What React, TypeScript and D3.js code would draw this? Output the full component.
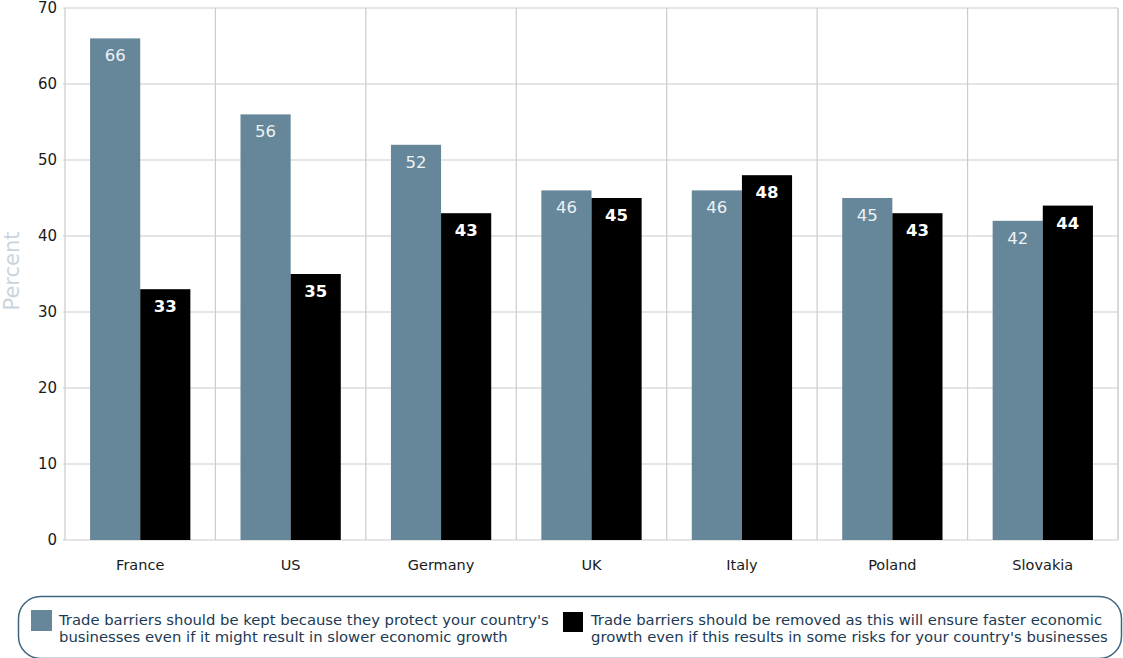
import React from "react";
import * as d3 from "d3";

const categories = ["France", "US", "Germany", "UK", "Italy", "Poland", "Slovakia"];
const keptValues = [66, 56, 52, 46, 46, 45, 42];
const removedValues = [33, 35, 43, 45, 48, 43, 44];
const yTicks = [0, 10, 20, 30, 40, 50, 60, 70];
const legendKept = [
  "Trade barriers should be kept because they protect your country's",
  "businesses even if it might result in slower economic growth",
];
const legendRemoved = [
  "Trade barriers should be removed as this will ensure faster economic",
  "growth even if this results in some risks for your country's businesses",
];

const W = 1123;
const H = 658;
const M = { left: 65, right: 1118, top: 8, bottom: 540 };
const BLUE = "#658799";
const FONT = "'DejaVu Sans', Verdana, sans-serif";

export default function App() {
  const x = d3.scaleBand<string>().domain(categories).range([M.left, M.right]).paddingInner(0).paddingOuter(0);
  const inner = d3.scaleBand<string>().domain(["kept", "removed"]).range([0, x.bandwidth()]).paddingOuter(0.5).paddingInner(0);
  const y = d3.scaleLinear().domain([0, 70]).range([M.bottom, M.top]);

  const series = [
    { key: "kept", values: keptValues, fill: BLUE, text: "#eef2f5", weight: 400 },
    { key: "removed", values: removedValues, fill: "#000000", text: "#ffffff", weight: 700 },
  ];

  return (
    <svg width={W} height={H} style={{ position: "absolute", left: 0, top: 0, display: "block" }} fontFamily={FONT}>
      <rect width={W} height={H} fill="#fff" />
      {/* horizontal gridlines */}
      {yTicks.map((t) => (
        <line key={"h" + t} x1={M.left - 2} x2={M.right} y1={y(t)} y2={y(t)} stroke="#cccccc" strokeWidth={1.2} />
      ))}
      {/* vertical category separators */}
      {categories.map((c) => (
        <line key={"v" + c} x1={x(c) as number} x2={x(c) as number} y1={M.top} y2={M.bottom} stroke="#cccccc" strokeWidth={1.2} />
      ))}
      <line x1={M.right} x2={M.right} y1={M.top} y2={M.bottom} stroke="#cccccc" strokeWidth={1.5} />
      {/* tick labels */}
      {yTicks.map((t) => (
        <text key={"t" + t} x={M.left - 8} y={y(t)} dy="0.36em" textAnchor="end" fontSize={15} fill="#1a1a1a">
          {t}
        </text>
      ))}
      <text transform={`translate(19, ${(M.top + M.bottom) / 2 - 3}) rotate(-90)`} textAnchor="middle" fontSize={21} fill="#c9d5de">
        Percent
      </text>
      {/* bars */}
      {series.map((s) =>
        categories.map((c, i) => {
          const bx = (x(c) as number) + (inner(s.key) as number);
          const v = s.values[i];
          return (
            <g key={s.key + c}>
              <rect x={bx} y={y(v)} width={inner.bandwidth()} height={y(0) - y(v)} fill={s.fill} />
              <text x={bx + inner.bandwidth() / 2} y={y(v) + 23} textAnchor="middle" fontSize={16.5} fontWeight={s.weight} fill={s.text}>
                {v}
              </text>
            </g>
          );
        })
      )}
      {/* category labels */}
      {categories.map((c) => (
        <text key={"c" + c} x={(x(c) as number) + x.bandwidth() / 2} y={570} textAnchor="middle" fontSize={14.5} fill="#1a1a1a">
          {c}
        </text>
      ))}
      {/* legend */}
      <rect x={18.5} y={596.5} width={1103} height={62} rx={22} ry={22} fill="none" stroke="#3d6580" strokeWidth={1.5} />
      <rect x={31} y={610} width={21} height={21} fill={BLUE} />
      {legendKept.map((l, i) => (
        <text key={"lk" + i} x={59} y={625 + i * 17} fontSize={14.8} fill="#1b3a55">
          {l}
        </text>
      ))}
      <rect x={563} y={612} width={20} height={20} fill="#000" />
      {legendRemoved.map((l, i) => (
        <text key={"lr" + i} x={591} y={625 + i * 17} fontSize={14.8} fill="#1b3a55">
          {l}
        </text>
      ))}
    </svg>
  );
}
